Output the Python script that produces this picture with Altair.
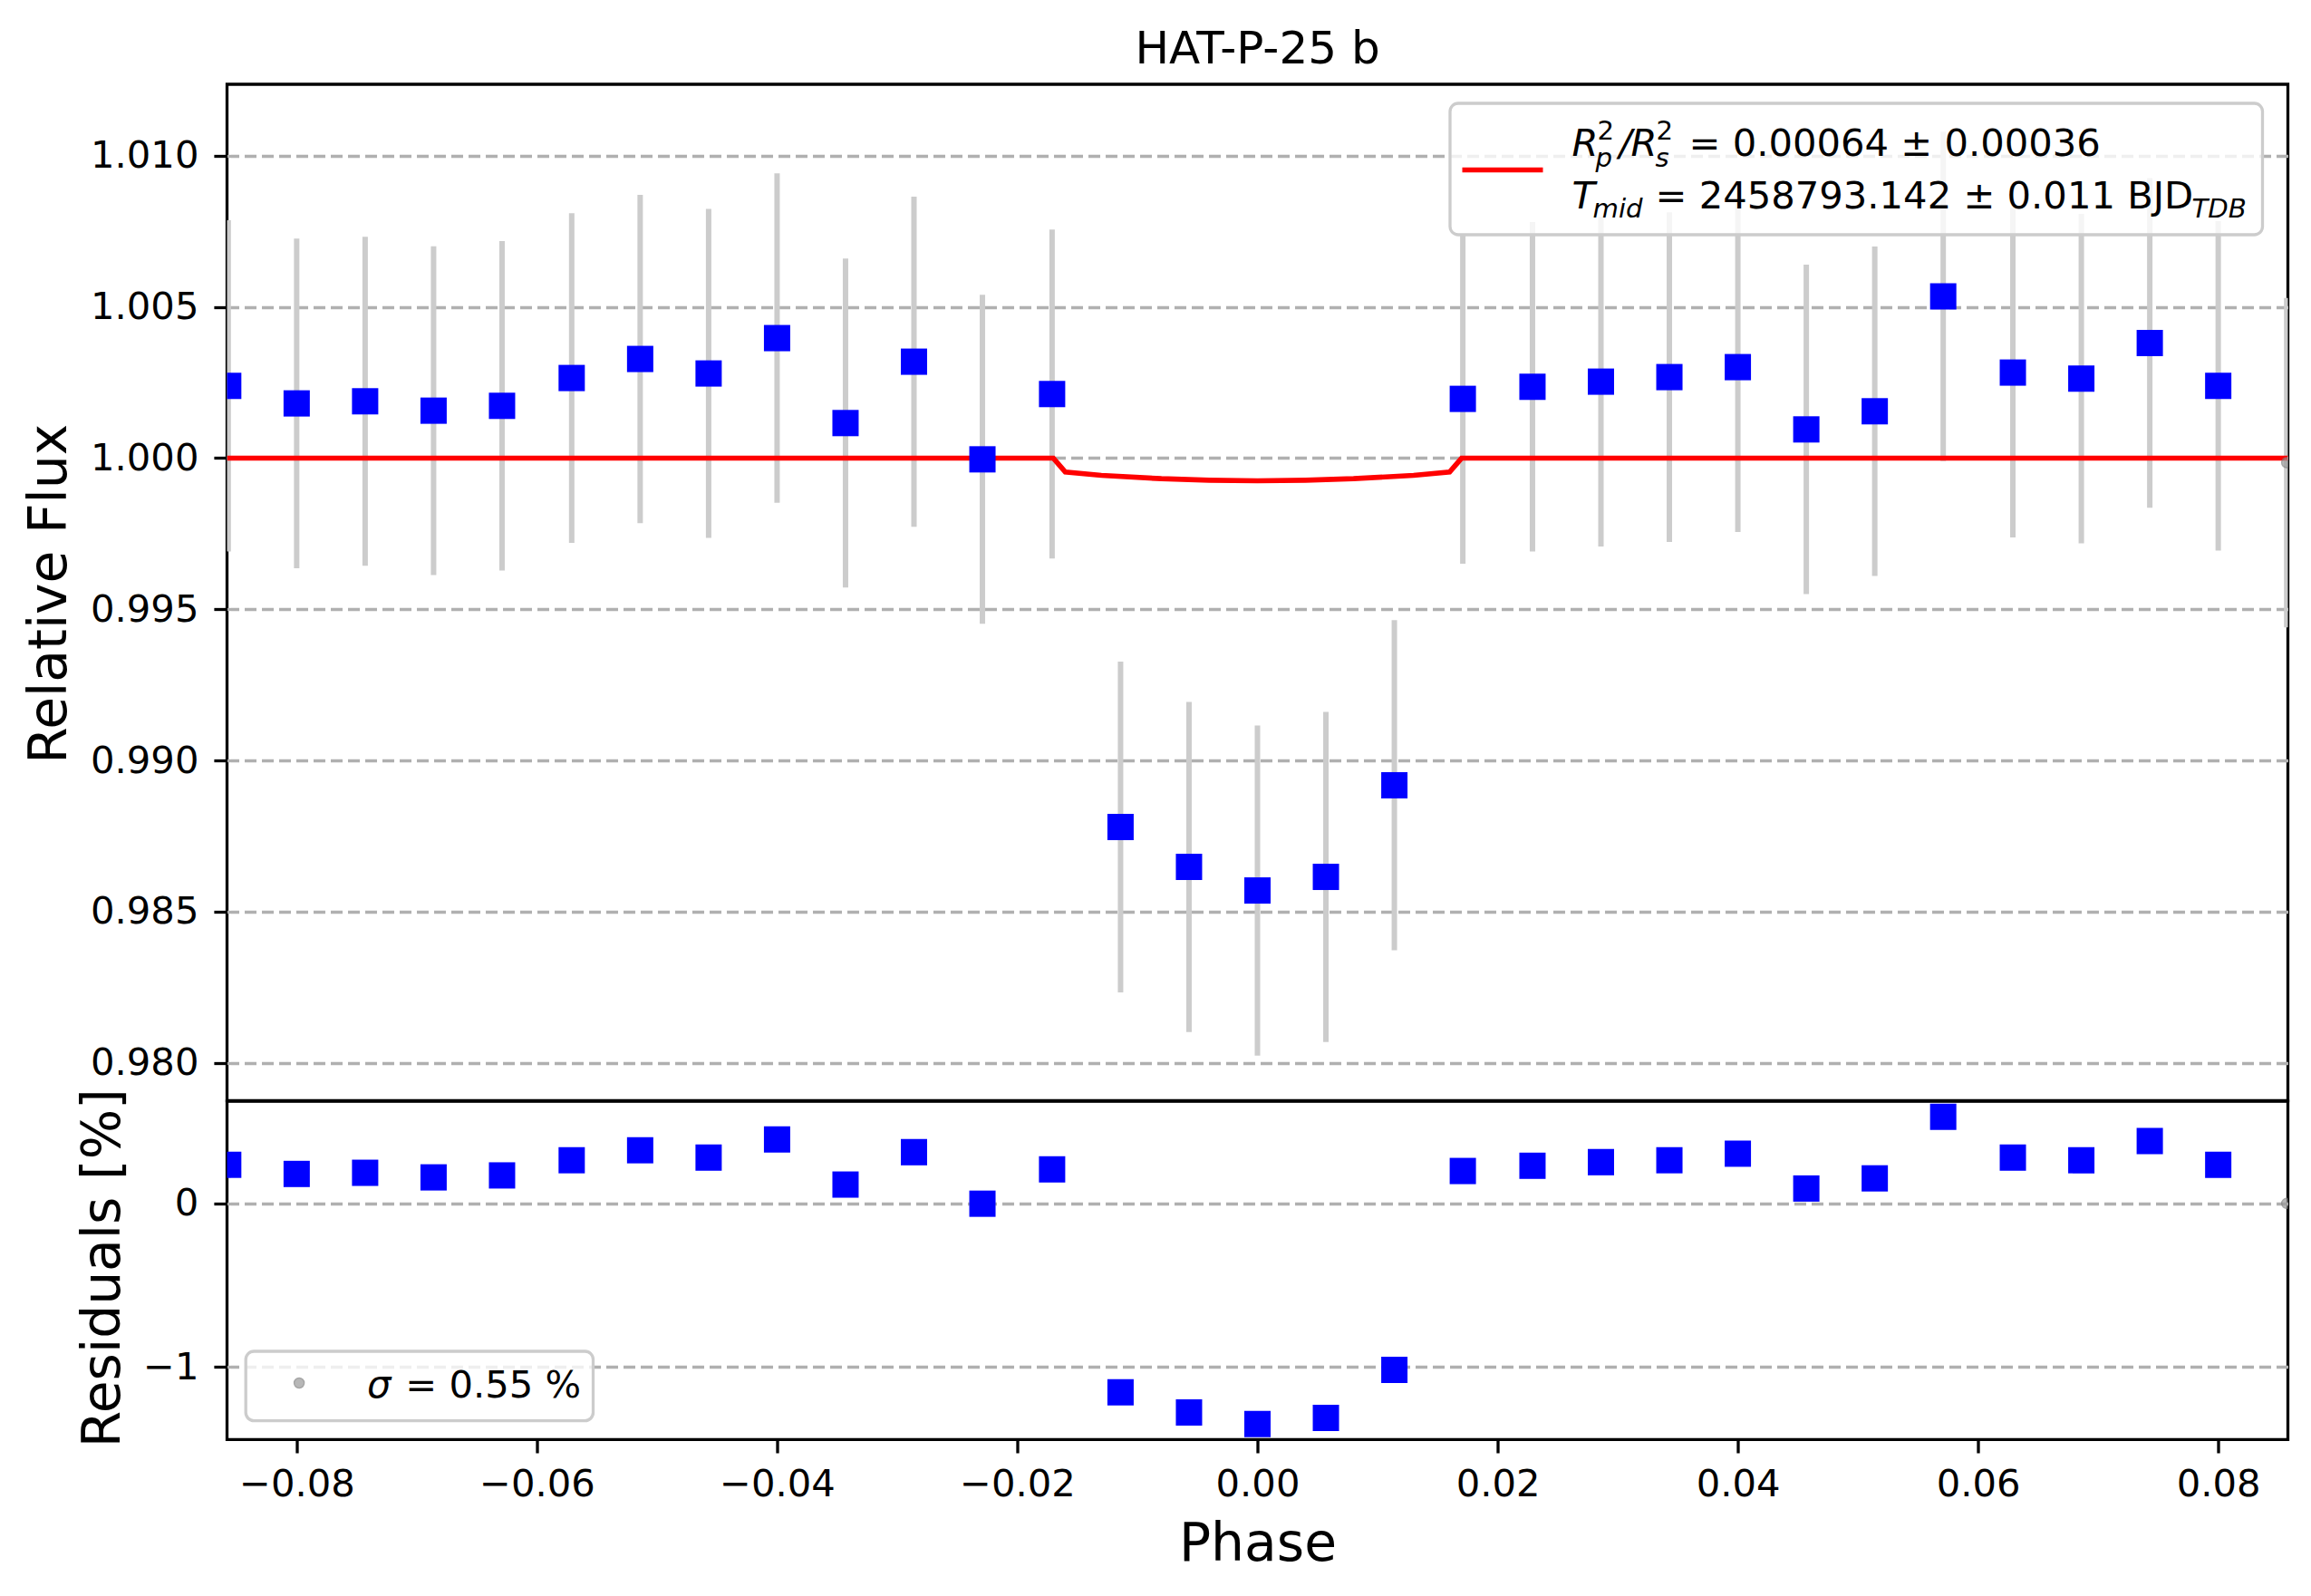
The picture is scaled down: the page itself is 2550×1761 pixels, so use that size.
import altair as alt
import pandas as pd

# ---------------- data ----------------
PHASE = [-0.0857, -0.0800, -0.0743, -0.0686, -0.0629, -0.0571, -0.0514, -0.0457,
         -0.0400, -0.0343, -0.0286, -0.0229, -0.0171, -0.0114, -0.0057, 0.0000,
         0.0057, 0.0114, 0.0171, 0.0229, 0.0286, 0.0343, 0.0400, 0.0457,
         0.0514, 0.0571, 0.0629, 0.0686, 0.0743, 0.0800]
FLUX = [1.00239, 1.00181, 1.00188, 1.00157, 1.00173, 1.00265, 1.00328, 1.00280,
        1.00397, 1.00116, 1.00319, 0.99996, 1.00212, 0.98780, 0.98648, 0.98570,
        0.98615, 0.98918, 1.00196, 1.00236, 1.00253, 1.00268, 1.00301, 1.00095,
        1.00155, 1.00535, 1.00283, 1.00263, 1.00381, 1.00239]
FLUX_ERR = [0.00548, 0.00545, 0.00544, 0.00544, 0.00545, 0.00545, 0.00543, 0.00544,
            0.00545, 0.00544, 0.00546, 0.00544, 0.00544, 0.00547, 0.00546, 0.00546,
            0.00546, 0.00546, 0.00545, 0.00545, 0.00545, 0.00545, 0.00545, 0.00545,
            0.00545, 0.00545, 0.00545, 0.00545, 0.00545, 0.00545]
RESID = [0.236, 0.180, 0.187, 0.159, 0.171, 0.264, 0.325, 0.280,
         0.391, 0.115, 0.313, -0.002, 0.208, -1.155, -1.278, -1.349,
         -1.312, -1.018, 0.198, 0.230, 0.252, 0.264, 0.304, 0.091,
         0.153, 0.530, 0.280, 0.264, 0.381, 0.236]

RAW_PHASE = [0.0857]
RAW_FLUX = [0.99985]
RAW_ERR = [0.00545]
RAW_RESID = [0.0]

MODEL_PHASE = [-0.0858, -0.0170, -0.0160, -0.0130, -0.0080, -0.0040, 0.0000,
               0.0040, 0.0080, 0.0130, 0.0160, 0.0170, 0.0858]
MODEL_FLUX = [1.0, 1.0, 0.99954, 0.99943, 0.99932, 0.99927, 0.99925,
              0.99927, 0.99932, 0.99943, 0.99954, 1.0, 1.0]

X_TICKS = [-0.08, -0.06, -0.04, -0.02, 0.0, 0.02, 0.04, 0.06, 0.08]
FLUX_TICKS = [0.980, 0.985, 0.990, 0.995, 1.000, 1.005, 1.010]
RESID_TICKS = [-1, 0]

TITLE = ["HAT-P-25 b"]
LEG1 = ["R", "2", "p", "/", "R", "2", "s", "= 0.00064 \u00b1 0.00036"]
LEG2 = ["T", "mid", "= 2458793.142 \u00b1 0.011 BJD", "TDB"]
LEG3 = ["\u03c3", "= 0.55 %"]

# ---------------- tables ----------------
bins = pd.DataFrame({"phase": PHASE, "flux": FLUX, "err": FLUX_ERR, "resid": RESID})
bins["lo"] = bins["flux"] - bins["err"]
bins["hi"] = bins["flux"] + bins["err"]
raw = pd.DataFrame({"phase": RAW_PHASE, "flux": RAW_FLUX, "err": RAW_ERR, "resid": RAW_RESID})
raw["lo"] = raw["flux"] - raw["err"]
raw["hi"] = raw["flux"] + raw["err"]
errs = pd.concat([bins, raw], ignore_index=True)
model = pd.DataFrame({"phase": MODEL_PHASE, "model": MODEL_FLUX})

# ---------------- styling ----------------
FONT = "DejaVu Sans"
W = 2274
H1 = 1121.5
H2 = 373.4
TICK = 14.6
LW = 3.3
FS = 41.7
FS_SUB = 29.2
FS_LABEL = 58.3

xscale = alt.Scale(domain=[-0.0858, 0.0858], nice=False, zero=False)
yscale1 = alt.Scale(domain=[0.978747, 1.012365], nice=False, zero=False)
yscale2 = alt.Scale(domain=[-1.444, 0.625], nice=False, zero=False)

common_axis = dict(
    domain=False, tickSize=TICK, tickWidth=LW, tickColor="black",
    labelFont=FONT, labelFontSize=FS, labelColor="black",
    titleFont=FONT, titleFontSize=FS_LABEL, titleFontWeight="normal", titleColor="black",
    gridColor="#b0b0b0", gridWidth=LW, gridDash=[13, 6],
)

yaxis1 = alt.Axis(values=FLUX_TICKS, format=".3f", grid=True, labelPadding=17,
                  title="Relative Flux", titleAngle=270, titleAlign="center",
                  titleBaseline="alphabetic", titleX=-178, titleY=H1 / 2 + 1,
                  **common_axis)
yaxis2 = alt.Axis(values=RESID_TICKS, format="d", grid=True, labelPadding=17,
                  title="Residuals [%]", titleAngle=270, titleAlign="center",
                  titleBaseline="alphabetic", titleX=-119, titleY=H2 / 2 - 3,
                  **common_axis)
xaxis2 = alt.Axis(values=X_TICKS, format=".2f", grid=False, labelPadding=14,
                  labelBaseline="top",
                  title="Phase", titleAlign="center", titleBaseline="alphabetic",
                  titleX=W / 2, titleY=133, **common_axis)

X1 = alt.X("phase:Q", scale=xscale, axis=None)


def Y1(field):
    return alt.Y(f"{field}:Q", scale=yscale1, axis=yaxis1, title="Relative Flux")


X2 = alt.X("phase:Q", scale=xscale, axis=xaxis2, title="Phase")


def Y2(field):
    return alt.Y(f"{field}:Q", scale=yscale2, axis=yaxis2, title="Residuals [%]")


def txt(s, x, y, size, italic=False, align="left"):
    return alt.Chart(pd.DataFrame({"t": [s]})).mark_text(
        font=FONT, fontSize=size, fontStyle="italic" if italic else "normal",
        align=align, baseline="alphabetic", color="black"
    ).encode(text="t:N", x=alt.value(x), y=alt.value(y))


# ---------------- upper panel ----------------
errbars = alt.Chart(errs).mark_rule(color="#cccccc", strokeWidth=6, clip=True).encode(
    x=X1, y=Y1("lo"), y2="hi:Q")
model_line = alt.Chart(model).mark_line(color="#ff0000", strokeWidth=5.7, clip=True).encode(
    x=X1, y=Y1("model"))
squares = alt.Chart(bins).mark_point(shape="square", filled=True, size=841, color="#0000ff",
                                     opacity=1, clip=True).encode(x=X1, y=Y1("flux"))
raw_pts = alt.Chart(raw).mark_point(shape="circle", filled=True, size=120, color="#9a9a9a",
                                    stroke="#808080", strokeWidth=1.5, opacity=0.7,
                                    clip=True).encode(x=X1, y=Y1("flux"))

# legend of the upper panel (positions in panel pixels)
leg_box1 = alt.Chart(pd.DataFrame({"k": [0]})).mark_rect(
    fill="white", fillOpacity=0.8, stroke="#cccccc", strokeWidth=LW, cornerRadius=9
).encode(x=alt.value(1349.5), x2=alt.value(2246), y=alt.value(21), y2=alt.value(166))
leg_line1 = alt.Chart(pd.DataFrame({"k": [0]})).mark_rule(
    color="#ff0000", strokeWidth=5.7
).encode(x=alt.value(1363), x2=alt.value(1452), y=alt.value(94.5))

leg_text1 = [
    txt(LEG1[0], 1484, 78.5, FS, True),
    txt(LEG1[1], 1512, 61, FS_SUB),
    txt(LEG1[2], 1510, 91, FS_SUB, True),
    txt(LEG1[3], 1536, 78.5, FS, True),
    txt(LEG1[4], 1549, 78.5, FS, True),
    txt(LEG1[5], 1577, 61, FS_SUB),
    txt(LEG1[6], 1576, 91, FS_SUB, True),
    txt(LEG1[7], 1613, 78.5, FS),
    txt(LEG2[0], 1484, 136.5, FS, True),
    txt(LEG2[1], 1507, 146.5, FS_SUB, True),
    txt(LEG2[2], 1576, 136.5, FS),
    txt(LEG2[3], 2168, 146.5, FS_SUB, True),
]

title_mark = txt(TITLE[0], W / 2, -23.2, 50, False, "center")

upper = alt.layer(errbars, model_line, squares, raw_pts, leg_box1, leg_line1,
                  *leg_text1, title_mark).properties(width=W, height=H1)

# ---------------- lower panel ----------------
res_sq = alt.Chart(bins).mark_point(shape="square", filled=True, size=841, color="#0000ff",
                                    opacity=1, clip=True).encode(x=X2, y=Y2("resid"))
res_raw = alt.Chart(raw).mark_point(shape="circle", filled=True, size=120, color="#9a9a9a",
                                    stroke="#808080", strokeWidth=1.5, opacity=0.7,
                                    clip=True).encode(x=X2, y=Y2("resid"))
leg_box2 = alt.Chart(pd.DataFrame({"k": [0]})).mark_rect(
    fill="white", fillOpacity=0.8, stroke="#cccccc", strokeWidth=LW, cornerRadius=9
).encode(x=alt.value(20.7), x2=alt.value(404), y=alt.value(276), y2=alt.value(352.6))
leg_pt2 = alt.Chart(pd.DataFrame({"k": [0]})).mark_point(
    shape="circle", filled=True, size=120, color="#9a9a9a", stroke="#808080",
    strokeWidth=1.5, opacity=0.7
).encode(x=alt.value(79.6), y=alt.value(311))
leg_text2 = [
    txt(LEG3[0], 154.6, 327, FS, True),
    txt(LEG3[1], 196.7, 327, FS),
]

lower = alt.layer(res_sq, res_raw, leg_box2, leg_pt2, *leg_text2).properties(width=W, height=H2)

chart = alt.vconcat(upper, lower, spacing=0, bounds="flush").resolve_scale(
    y="independent"
).properties(
    padding={"left": 15.5, "top": 20, "right": 5, "bottom": 5},
    background="white",
).configure_view(stroke="black", strokeWidth=LW).configure_concat(spacing=0)

chart.save("out.html", embed_options={"renderer": "svg", "actions": False})
